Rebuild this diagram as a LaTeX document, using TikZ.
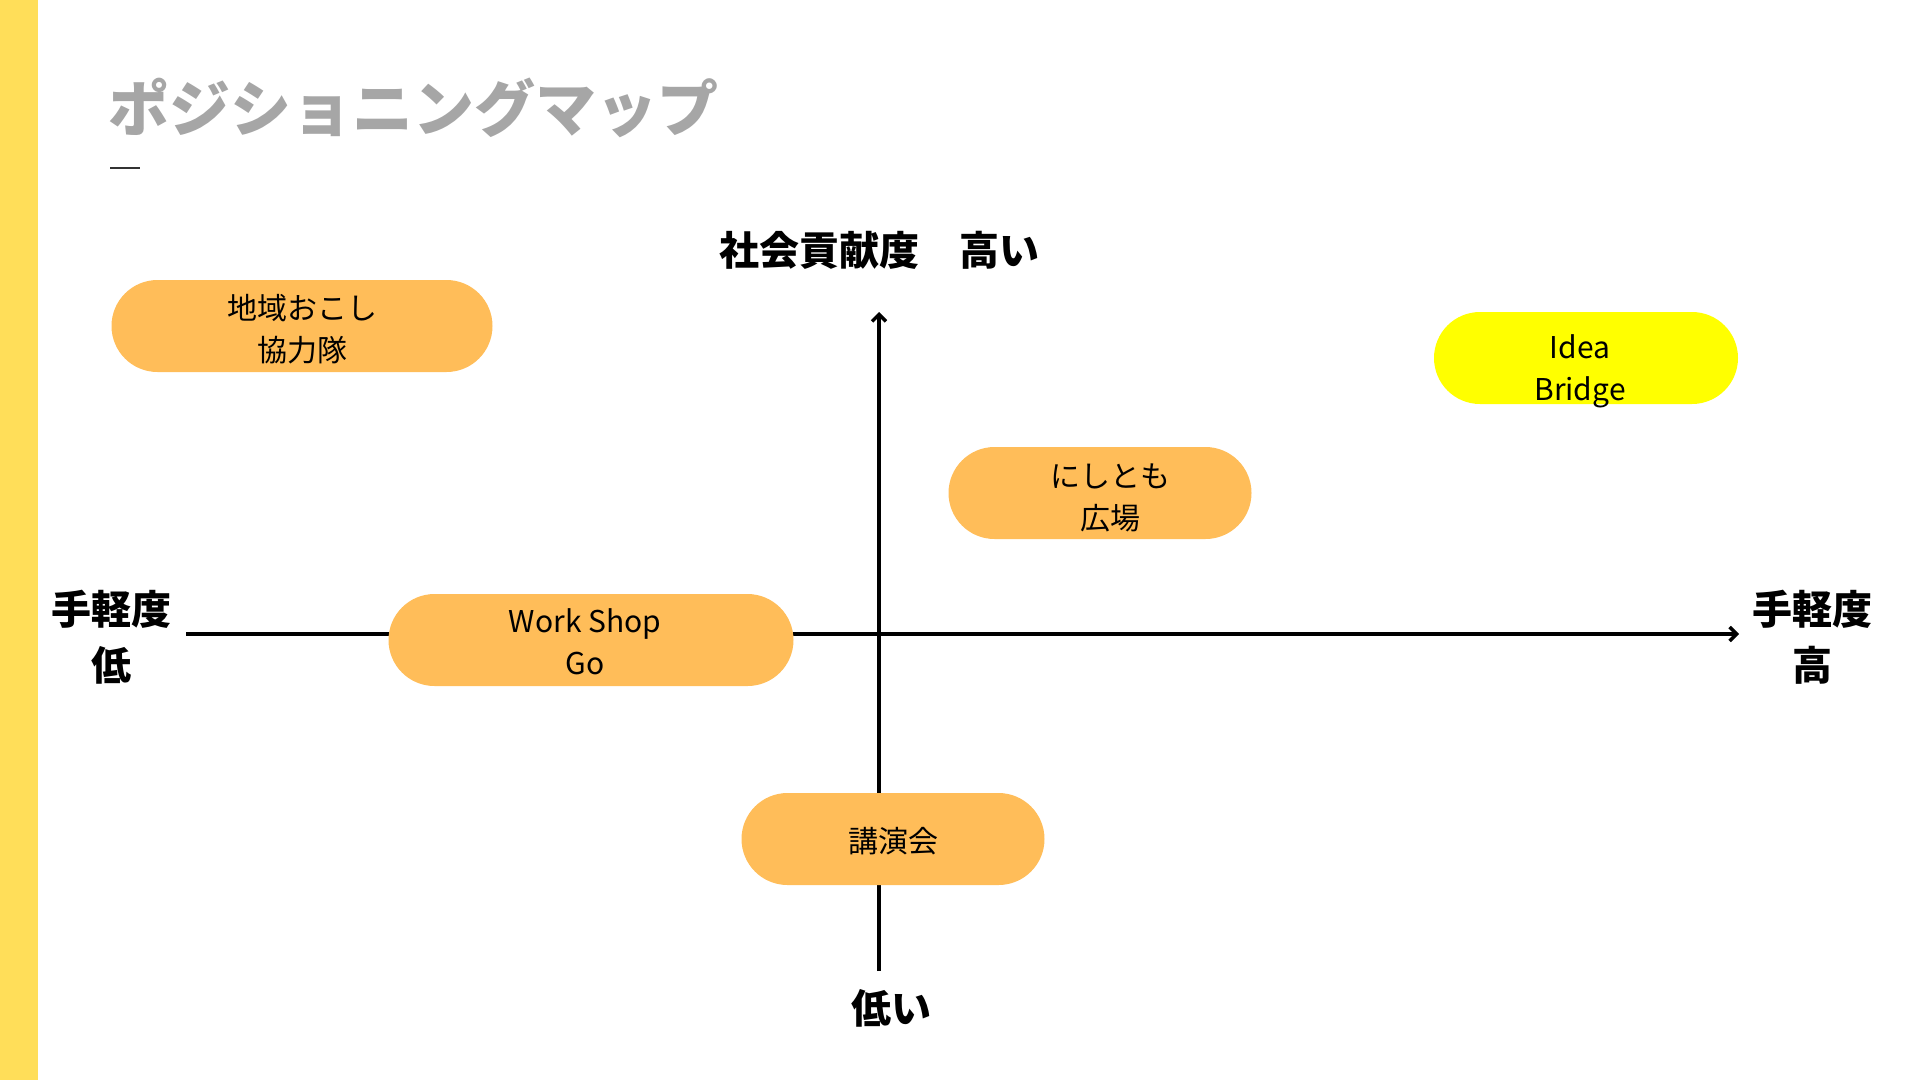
\documentclass[tikz,border=0pt]{standalone}
\usepackage{fontspec}
\setmainfont{Noto Sans CJK JP}
\usepackage{tikz}
\usetikzlibrary{shapes.misc,arrows.meta,positioning}

\definecolor{barYellow}{HTML}{FFDE59}
\definecolor{pillOrange}{HTML}{FFBD59}
\definecolor{pillYellow}{HTML}{FFFF00}
\definecolor{titleGray}{HTML}{A6A6A6}

% text set a little off the centre of its pill: {dx}{dy}{lines}
\newcommand{\pilltext}[3]{\hspace*{#1}\raisebox{#2}[\height][\depth]{\begin{tabular}{@{}c@{}}#3\end{tabular}}}

\begin{document}
\begin{tikzpicture}[
    x=1pt, y=-1pt,
    pill/.style={rounded rectangle, fill=pillOrange, minimum height=92pt, inner sep=0pt, font=\fontsize{30}{42}\selectfont},
    axislabel/.style={align=center, font=\bfseries\fontsize{40}{56}\selectfont},
    axis/.style={line width=3.5pt, -{Straight Barb[length=7pt,width=14pt]}}
]
\useasboundingbox (0,0) rectangle (1920,1080);
\fill[barYellow] (0,0) rectangle (38,1080);

% title
\node[anchor=west, text=titleGray, font=\bfseries\fontsize{61}{72}\selectfont, inner sep=0pt] (title) at (108,108) {ポジショニングマップ};
\draw[line width=2pt, black!80] (110,168) -- (140,168);

% axes
\coordinate (xlow) at (186,634);
\coordinate (xhigh) at (1739,634);
\coordinate (ylow) at (879,971);
\coordinate (yhigh) at (879,312);
\draw[axis] (xlow) -- (xhigh);
\draw[axis] (ylow) -- (yhigh);

\node[axislabel] (top) at (879,250) {社会貢献度　高い};
\node[axislabel] (bottom) at (891,1008) {低い};
\node[axislabel] (left) at (111,637) {手軽度\\低};
\node[axislabel] (right) at (1812,637) {手軽度\\高};

% items
\node[pill, minimum width=381pt] (chiiki) at (302,326) {\pilltext{0pt}{-6pt}{地域おこし\\協力隊}};
\node[pill, minimum width=304pt, fill=pillYellow] (idea) at (1586,358) {\pilltext{-12pt}{-13pt}{Idea\\Bridge}};
\node[pill, minimum width=303pt] (nishitomo) at (1100,493) {\pilltext{20pt}{-7pt}{にしとも\\広場}};
\node[pill, minimum width=405pt] (workshop) at (591,640) {\pilltext{-12pt}{-5pt}{Work Shop\\Go}};
\node[pill, minimum width=303pt] (kouen) at (893,839) {\pilltext{0pt}{-5pt}{講演会}};

\end{tikzpicture}
\end{document}
